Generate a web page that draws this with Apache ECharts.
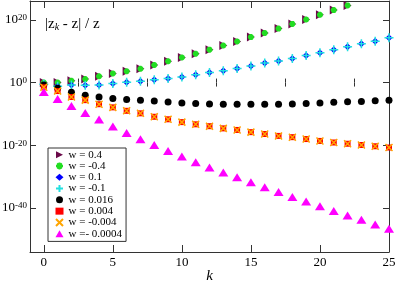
<!DOCTYPE html>
<html><head><meta charset="utf-8">
<script src="https://cdn.jsdelivr.net/npm/echarts@6/dist/echarts.min.js"></script>
<style>html,body{margin:0;padding:0;background:#fff}#c{width:397px;height:281px}</style>
</head><body><div id="c"></div>
<script>
// k values (iteration index)
const kValues = [0,1,2,3,4,5,6,7,8,9,10,11,12,13,14,15,16,17,18,19,20,21,22,23,24,25];
// log10 of |z_k - z| / z for each series
const wP04   = [0.0,0.0,0.6,1.1,2.0,2.9,3.6,4.4,5.6,6.8,8.0,9.2,10.5,11.8,13.1,14.5,15.8,17.2,18.7,20.1,21.6,23.1,24.6];
const wM04   = [0.0,0.0,0.6,1.1,2.0,2.9,3.6,4.4,5.6,6.8,8.0,9.2,10.5,11.8,13.1,14.5,15.8,17.2,18.7,20.1,21.6,23.1,24.6];
const wP01   = [-0.5,-1.2,-0.8,-0.85,-0.8,-0.3,0.1,0.4,0.9,1.3,1.8,2.5,3.2,3.8,4.5,5.3,6.2,6.9,7.7,8.6,9.5,10.5,11.4,12.4,13.2,14.3];
const wM01   = [-0.5,-1.2,-0.8,-0.85,-0.8,-0.3,0.1,0.4,0.9,1.3,1.8,2.5,3.2,3.8,4.5,5.3,6.2,6.9,7.7,8.6,9.5,10.5,11.4,12.4,13.2,14.3];
const wP016  = [-0.8,-1.8,-3.1,-4.0,-4.6,-5.1,-5.4,-5.6,-5.9,-6.2,-6.5,-6.7,-6.8,-6.9,-6.9,-6.9,-6.9,-6.9,-6.8,-6.7,-6.5,-6.3,-6.1,-6.0,-5.8,-5.6];
const wP004  = [-1.5,-2.7,-4.6,-5.6,-6.9,-7.9,-9.0,-9.8,-10.9,-11.7,-12.6,-13.3,-13.9,-14.6,-15.1,-15.8,-16.4,-17.0,-17.4,-18.0,-18.6,-19.1,-19.5,-19.9,-20.3,-20.7];
const wM004  = [-1.5,-2.7,-4.6,-5.6,-6.9,-7.9,-9.0,-9.8,-10.9,-11.7,-12.6,-13.3,-13.9,-14.6,-15.1,-15.8,-16.4,-17.0,-17.4,-18.0,-18.6,-19.1,-19.5,-19.9,-20.3,-20.7];
const wM0004 = [-3.0,-5.2,-7.5,-9.7,-11.8,-14.0,-16.1,-18.1,-19.9,-21.8,-23.6,-25.4,-27.1,-28.7,-30.2,-31.8,-33.4,-34.9,-36.5,-37.9,-39.4,-40.9,-42.4,-43.7,-45.2,-46.6];
const seriesNames = ['w = 0.4','w = -0.4','w = 0.1','w = -0.1','w = 0.016','w = 0.004','w = -0.004','w =- 0.0004'];
const xMajorTicks = [0,5,10,15,20,25];
const xMinorTicks = [2.5,7.5,12.5,17.5,22.5];
const yTickExps = [-40,-20,0,20];

const pairs = vals => vals.map((v,i) => [kValues[i], v]);
const FONT = '"Liberation Serif", "Times New Roman", serif';
const AX = '#333';

const styles = [
  {symbol:'path://M0,0L10,5L0,10Z', symbolSize:[8,9], itemStyle:{color:'#6b0a4a', opacity:1}},
  {symbol:'path://M5,0L5,10M0,5L10,5M1.5,1.5L8.5,8.5M1.5,8.5L8.5,1.5', symbolSize:6, itemStyle:{color:'#22dd22', borderColor:'#22dd22', borderWidth:2, opacity:1}},
  {symbol:'diamond', symbolSize:7, itemStyle:{color:'#0000ff', opacity:1}},
  {symbol:'path://M5,0L5,10M0,5L10,5', symbolSize:9, itemStyle:{color:'#22e0e0', borderColor:'#22e0e0', borderWidth:1.5, opacity:1}},
  {symbol:'circle', symbolSize:7, itemStyle:{color:'#000', opacity:1}},
  {symbol:'rect', symbolSize:6, itemStyle:{color:'#ff0000', opacity:1}},
  {symbol:'path://M0,0L10,10M0,10L10,0', symbolSize:7, itemStyle:{color:'#ffa500', borderColor:'#ffa500', borderWidth:1.5, opacity:1}},
  {symbol:'triangle', symbolSize:[10,8], itemStyle:{color:'#ff00ff', opacity:1}}
];
const dataSets = [wP04,wM04,wP01,wM01,wP016,wP004,wM004,wM0004];

const chart = echarts.init(document.getElementById('c'), null, {renderer:'canvas'});
const xBase = {type:'value', min:-1, max:25, splitLine:{show:false}, axisLabel:{show:false}, axisLine:{show:false}};
chart.setOption({
  animation:false,
  backgroundColor:'#fff',
  grid:{left:30, right:8, top:1, bottom:29, containLabel:false, outerBoundsMode:'none'},
  title:{
    text:'|z{s|k} - z| / z', left:40, top:12,
    textStyle:{fontFamily:FONT, fontSize:15, fontWeight:'normal', color:'#000',
      rich:{s:{fontFamily:FONT, fontSize:10, fontStyle:'italic', verticalAlign:'bottom', padding:[6,0,0,0], lineHeight:10}}}
  },
  legend:{
    orient:'vertical', left:48, top:148, selectedMode:false,
    padding:[1,4,2,7], itemGap:0, itemWidth:8, itemHeight:7, itemTextGap:14,
    borderColor:'#333', borderWidth:1, backgroundColor:'#fff', borderRadius:0,
    textStyle:{fontFamily:FONT, fontSize:11, lineHeight:11.3, color:'#000'},
    data:seriesNames
  },
  xAxis:[
    Object.assign({}, xBase, {position:'bottom', axisLine:{show:true, onZero:false, lineStyle:{color:AX}},
      axisTick:{inside:true, length:7, customValues:xMajorTicks, lineStyle:{color:AX}},
      axisLabel:{show:true, customValues:xMajorTicks, margin:4, fontFamily:FONT, fontSize:13, color:'#000'},
      name:'k', nameLocation:'middle', nameGap:17, nameMoveOverlap:false,
      nameTextStyle:{fontFamily:FONT, fontSize:15, fontStyle:'italic', color:'#000'}}),
    Object.assign({}, xBase, {position:'bottom', axisTick:{inside:true, length:4, customValues:xMinorTicks, lineStyle:{color:AX}}}),
    Object.assign({}, xBase, {position:'top', axisLine:{show:true, onZero:false, lineStyle:{color:AX}},
      axisTick:{inside:true, length:7, customValues:xMajorTicks, lineStyle:{color:AX}}}),
    Object.assign({}, xBase, {position:'top', axisTick:{inside:true, length:4, customValues:xMinorTicks, lineStyle:{color:AX}}})
  ],
  yAxis:[
    {type:'value', position:'left', min:-54, max:26, splitLine:{show:false},
      axisLine:{show:true, onZero:false, lineStyle:{color:AX}},
      axisTick:{inside:true, length:6, customValues:yTickExps, lineStyle:{color:AX}},
      axisLabel:{customValues:yTickExps, margin:3, color:'#000',
        formatter:v => '{b|10}{s|' + v + '}',
        rich:{b:{fontFamily:FONT, fontSize:13, lineHeight:13, verticalAlign:'bottom', padding:[4,0,0,0]},
              s:{fontFamily:FONT, fontSize:9, lineHeight:9, verticalAlign:'top', padding:[0,0,8,0]}}}},
    {type:'value', position:'right', min:-54, max:26, splitLine:{show:false},
      axisLine:{show:true, onZero:false, lineStyle:{color:AX}},
      axisTick:{inside:true, length:6, customValues:yTickExps, lineStyle:{color:AX}},
      axisLabel:{show:false}}
  ],
  series: dataSets.map((d,i) => Object.assign({
    type:'scatter', name:seriesNames[i], data:pairs(d), xAxisIndex:0, yAxisIndex:0
  }, styles[i]))
});
</script></body></html>
